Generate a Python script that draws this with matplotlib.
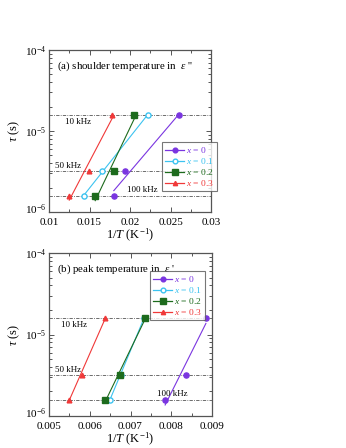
import numpy as np
import matplotlib
matplotlib.use('Agg')
import matplotlib.pyplot as plt
import matplotlib.transforms as mtransforms
from matplotlib.lines import Line2D
from matplotlib.ticker import LogLocator, MultipleLocator, FixedLocator, FixedFormatter

plt.rcParams['font.family'] = 'Liberation Serif'
plt.rcParams['mathtext.fontset'] = 'custom'
plt.rcParams['mathtext.rm'] = 'Liberation Serif'
plt.rcParams['mathtext.it'] = 'Liberation Serif:italic'

# relaxation time for each measuring frequency, tau = 1/(2 pi f)
freqs = [100e3, 50e3, 10e3]
freq_labels = ['100 kHz', '50 kHz', '10 kHz']
tau = [1 / (2 * np.pi * f) for f in freqs]

labels = ['0', '0.1', '0.2', '0.3']
colors = ['#7a35e0', '#3cc3f0', '#1d6b1d', '#f03838']
markers = ['o', 'o', 's', '^']
faces = ['#7a35e0', 'white', '#1d6b1d', '#f03838']
msizes = [3.7, 3.7, 4.0, 3.4]

# 1/T values (K^-1) at 100, 50, 10 kHz
# (a) shoulder temperature in eps''
inv_t_a = [
    [0.0180, 0.0194, 0.0261],
    [0.0143, 0.0166, 0.0222],
    [0.0157, 0.0180, 0.0205],
    [0.0125, 0.0149, 0.0178],
]
# (b) peak temperature in eps'
inv_t_b = [
    [0.00785, 0.00835, 0.00885],
    [0.00649, 0.00676, 0.00733],
    [0.00637, 0.00675, 0.00735],
    [0.00548, 0.00581, 0.00637],
]

fig = plt.figure(figsize=(3.46, 4.48), dpi=100)
ax_a = fig.add_axes([49 / 346, 1 - 212 / 448, 162 / 346, 162 / 448])
ax_b = fig.add_axes([49 / 346, 1 - 416 / 448, 163 / 346, 163 / 448])


def draw(ax, data, xlim, xticks, xtick_labels, title, text_pos, leg_anchor):
    for i, xs in enumerate(data):
        ax.plot(xs, tau, linestyle='none', marker=markers[i], ms=msizes[i],
                mfc=faces[i], mec=colors[i], mew=1.0, zorder=4)
        # straight fit of log(tau) against 1/T
        p = np.polyfit(xs, np.log10(tau), 1)
        xf = np.array([min(xs), max(xs)])
        ax.plot(xf, 10 ** np.polyval(p, xf), color=colors[i], lw=0.8, zorder=3)
    for t in tau:
        ax.axhline(t, color='#555555', lw=0.6, ls=(0, (4, 1.5, 1, 1.5)), zorder=2)
    for (x, y), s in zip(text_pos, freq_labels):
        ax.text(x, y, s, fontsize=6.5, ha='left', va='center')

    ax.set_yscale('log')
    ax.set_ylim(1e-6, 1e-4)
    ax.set_xlim(*xlim)
    ax.xaxis.set_major_locator(FixedLocator(xticks))
    ax.xaxis.set_major_formatter(FixedFormatter(xtick_labels))
    ax.xaxis.set_minor_locator(MultipleLocator((xticks[1] - xticks[0]) / 2))
    ax.yaxis.set_major_locator(FixedLocator([1e-6, 1e-5, 1e-4]))
    ax.yaxis.set_major_formatter(FixedFormatter([r'10$^{-6}$', r'10$^{-5}$', r'10$^{-4}$']))
    ax.yaxis.set_minor_locator(LogLocator(base=10, subs=np.arange(2, 10)))
    ax.tick_params(which='both', direction='in', top=True, right=True,
                   labelsize=8, width=0.7, color='#555555')
    ax.tick_params(which='major', length=3.5)
    ax.tick_params(axis='x', which='major', pad=4.5)
    ax.tick_params(axis='y', which='major', pad=2)
    ax.tick_params(which='minor', length=2)
    for sp in ax.spines.values():
        sp.set_color('#555555')
        sp.set_linewidth(0.9)
    # lift the bottom y label a little so it clears the first x label
    lbl = ax.yaxis.get_majorticklabels()[0]
    lbl.set_transform(lbl.get_transform() + mtransforms.ScaledTranslation(0, 3 / 72, fig.dpi_scale_trans))
    ax.set_xlabel(r'1/$T$ (K$^{-1}$)', fontsize=9, labelpad=0)
    ax.set_ylabel(r'$\tau$ (s)', fontsize=9)
    ax.yaxis.set_label_coords(-0.165, 0.5)
    ax.text(0.05, 0.9, title, transform=ax.transAxes, fontsize=7.8, ha='left', va='center')

    handles = [Line2D([], [], color=colors[i], marker=markers[i], ms=msizes[i] - 0.3,
                      mfc=faces[i], mec=colors[i], lw=0.9) for i in range(4)]
    names = [r'$x$ = ' + s for s in labels]
    leg = ax.legend(handles, names, loc='upper left', bbox_to_anchor=leg_anchor,
                    bbox_transform=ax.transAxes, fontsize=6.8, frameon=True,
                    fancybox=False, edgecolor='#555555', handlelength=2.0,
                    handletextpad=0.2, labelspacing=0.1, borderpad=0.35,
                    borderaxespad=0)
    leg.get_frame().set_linewidth(0.8)
    for txt, c in zip(leg.get_texts(), colors):
        txt.set_color(c)


draw(ax_a, inv_t_a, (0.01, 0.03), [0.01, 0.015, 0.02, 0.025, 0.03],
     ['0.01', '0.015', '0.02', '0.025', '0.03'],
     r"(a) shoulder temperature in  $\varepsilon$ ''",
     [(0.0196, 1.85e-6), (0.0107, 3.7e-6), (0.0120, 1.3e-5)],
     (113 / 162, 1 - 92 / 162))

draw(ax_b, inv_t_b, (0.005, 0.009), [0.005, 0.006, 0.007, 0.008, 0.009],
     ['0.005', '0.006', '0.007', '0.008', '0.009'],
     r"(b) peak temperature in  $\varepsilon$ '",
     [(0.00765, 1.85e-6), (0.00515, 3.7e-6), (0.0053, 1.3e-5)],
     (101 / 163, 1 - 18 / 163))

fig.savefig('out.png', dpi=100)
